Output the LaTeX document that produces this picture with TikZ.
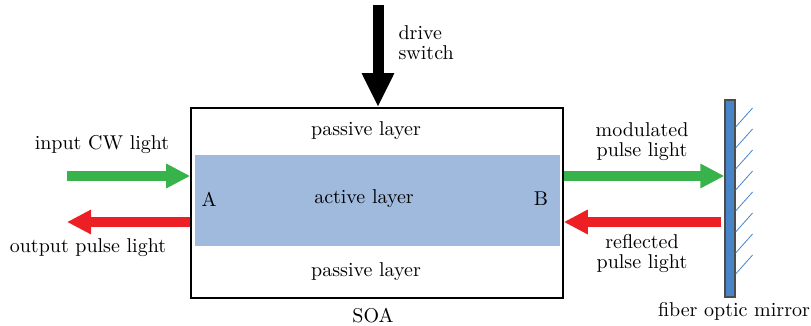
\documentclass[tikz,border=0pt]{standalone}
\usepackage{tikz}
\usetikzlibrary{arrows.meta}
\definecolor{lgreen}{RGB}{56,178,74}
\definecolor{lred}{RGB}{236,32,36}
\definecolor{actblue}{RGB}{160,186,222}
\definecolor{mirblue}{RGB}{72,132,200}

\begin{document}
\begin{tikzpicture}[x=0.5pt,y=-0.5pt,semithick]
    \tikzstyle{fat}=[line width=5pt,-{Triangle[length=12pt,width=11.5pt]}]
    \tikzstyle{lbl}=[inner sep=0pt,align=center]
    \useasboundingbox (0,0) rectangle (811,326);
    \node[draw, line width=0.8pt, minimum width=186pt, minimum height=95pt, inner sep=0] (soa) at (377,203) {};
    \node[fill=actblue, minimum width=182.5pt, minimum height=45.5pt, inner sep=0] (act) at (377.5,200.5) {};
    \node[draw=black!70, fill=mirblue, minimum width=5pt, minimum height=98.5pt, inner sep=0] (mirror) at (730,198.5) {};
    \foreach \y in {127,148,...,274}
        \draw[mirblue, thin] (mirror.east |- 0,\y) -- ++(17,-19);
    \node[lbl] (pt) at (366,131) {passive layer};
    \node[lbl] (pb) at (366,272) {passive layer};
    \node[lbl] (al) at (364,199) {active layer};
    \node[lbl] (a) at (209,199) {A};
    \node[lbl] (b) at (541,199) {B};
    \node[lbl] (name) at (373,316) {SOA};
    \node[lbl, anchor=west, align=left] (drv) at (398,43) {drive\\[-2pt] switch};
    \node[lbl] (inl) at (102,145) {input CW light};
    \node[lbl] (outl) at (88,248) {output pulse light};
    \node[lbl] (modl) at (642,142) {modulated\\[-2pt] pulse light};
    \node[lbl] (refl) at (642,254) {reflected\\[-2pt] pulse light};
    \node[lbl] (mirl) at (734,311) {fiber optic mirror};
    \coordinate (top) at (378,5);
    \coordinate (in) at (67,176);
    \coordinate (back) at (67,222);
    \draw[line width=5.5pt, -{Triangle[length=17pt,width=15pt]}] (top) -- (top |- soa.north);
    \draw[fat, lgreen] (in) -- (in -| soa.west);
    \draw[fat, lred] (soa.west |- back) -- (back);
    \draw[fat, lgreen] (soa.east |- in) -- (mirror.west |- in);
    \draw[fat, lred] ([xshift=-1.5pt]mirror.west |- back) -- (soa.east |- back);
\end{tikzpicture}
\end{document}
